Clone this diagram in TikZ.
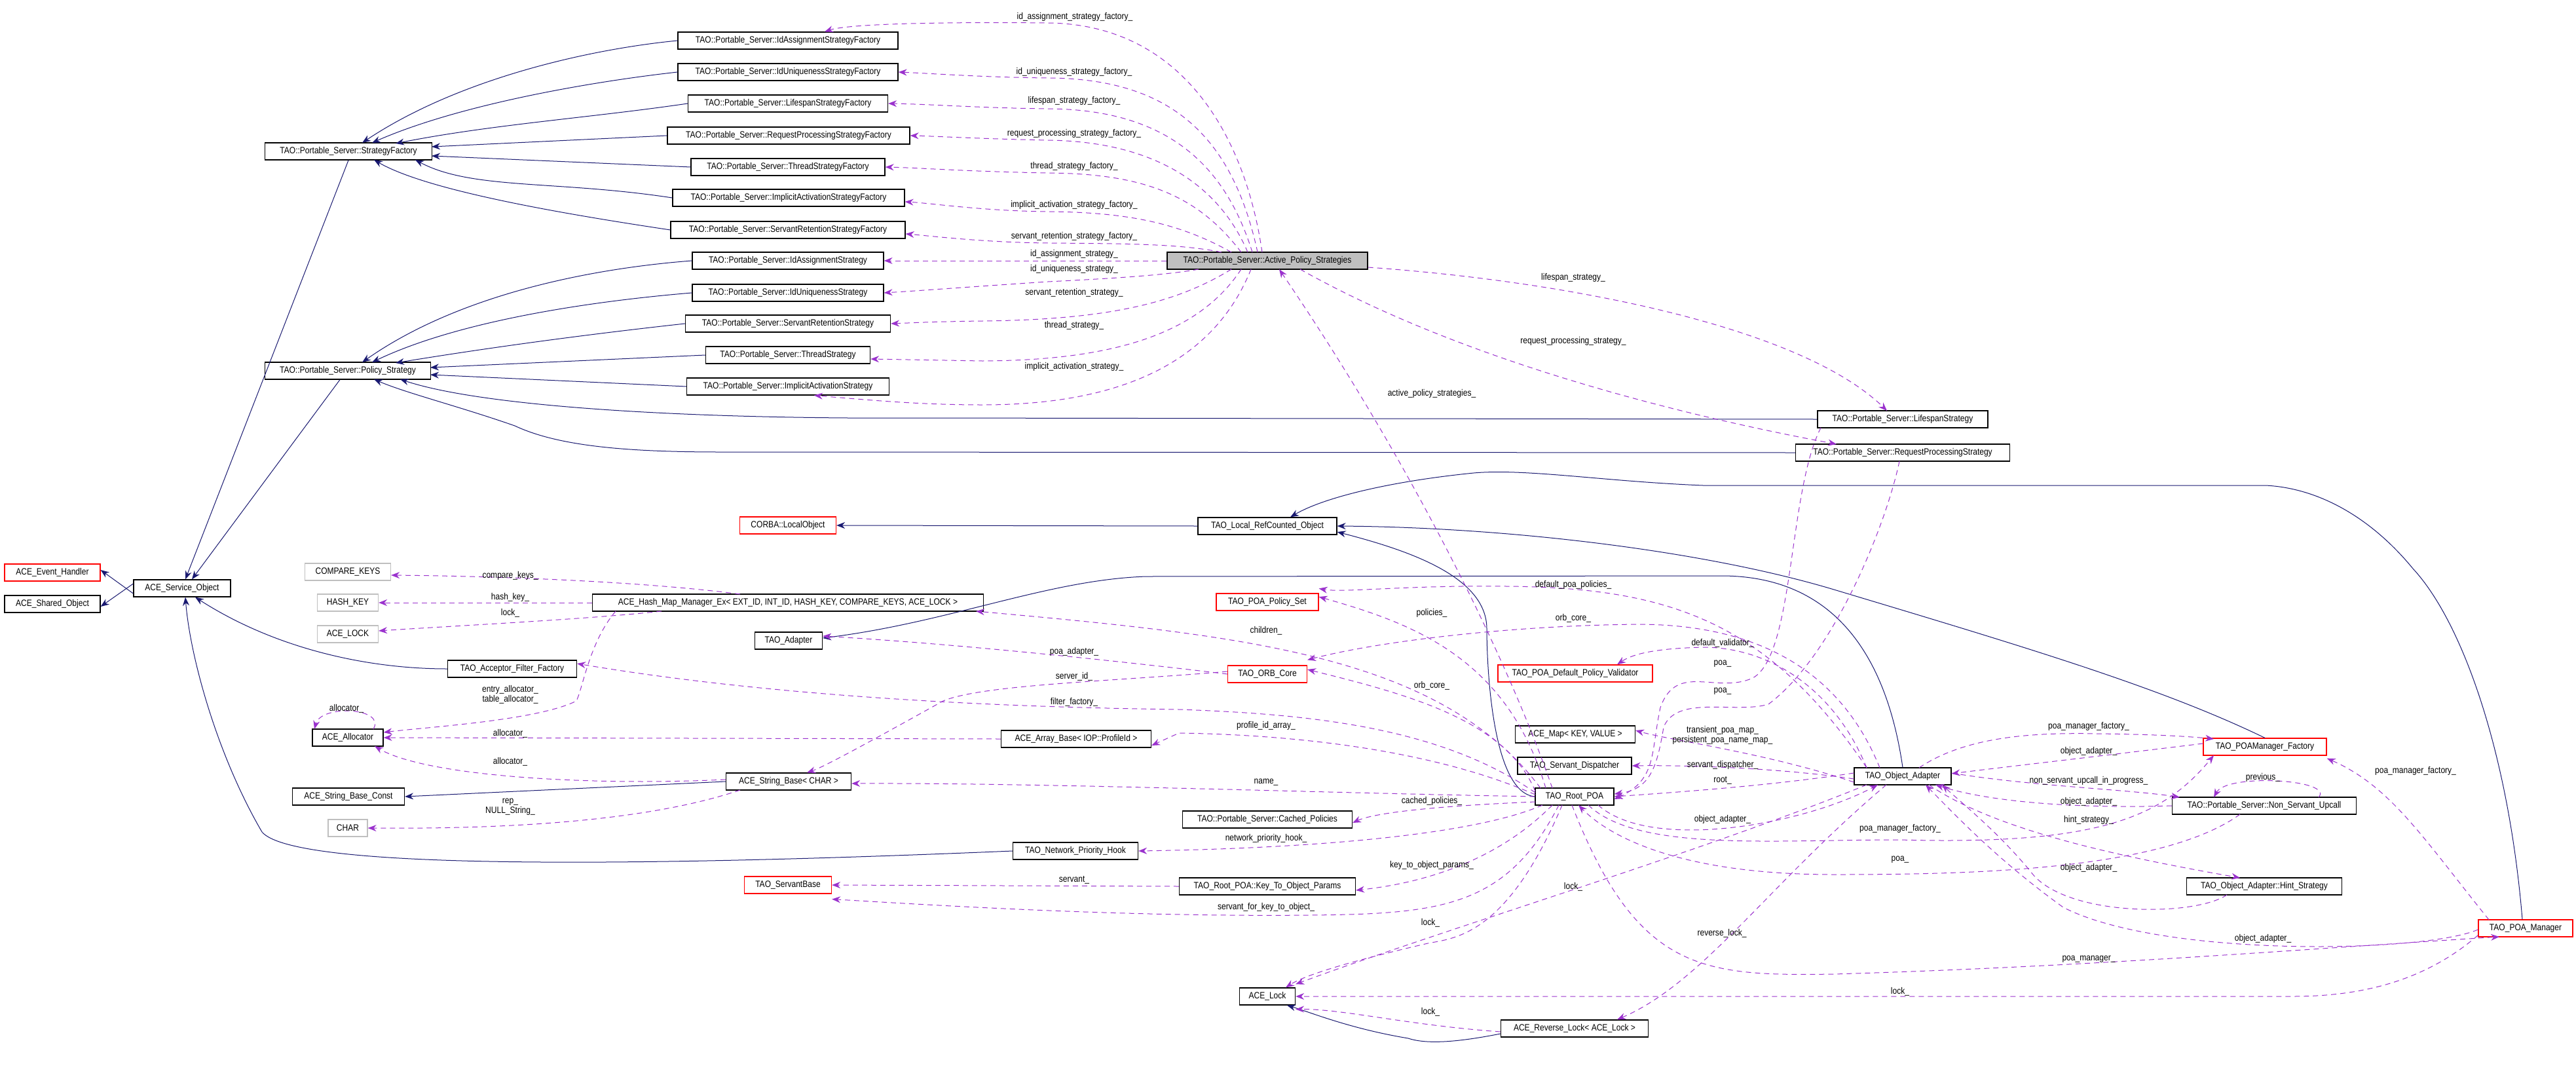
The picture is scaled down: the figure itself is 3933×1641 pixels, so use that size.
\documentclass[tikz,border=0pt]{standalone}
\usepackage{fontspec}
\setmainfont[FakeStretch=0.86]{Liberation Sans}
\usetikzlibrary{arrows.meta}
\definecolor{inhc}{HTML}{191970}
\definecolor{usec}{HTML}{9A32CD}
\definecolor{grayb}{HTML}{BFBFBF}
\tikzset{
 box/.style={draw=black,line width=1.2pt,minimum height=26pt,inner sep=0pt,font=\fontsize{14}{15}\selectfont,fill=white},
 redbox/.style={box,draw=red},
 graybox/.style={box,draw=grayb},
 lbl/.style={inner sep=0pt,font=\fontsize{14}{15}\selectfont},
 inh/.style={draw=inhc,line width=1pt,-{Stealth[length=13pt,width=10pt]}},
 use/.style={draw=usec,line width=1pt,dash pattern=on 8pt off 6pt,-{Stealth[length=13pt,width=10pt]}},
}
\begin{document}
\begin{tikzpicture}[x=1pt,y=-1pt]
\useasboundingbox (0,0) rectangle (3933,1641);
% nodes
\node[box,minimum width=336] (idasf) at (1203,62) {TAO::Portable\_Server::IdAssignmentStrategyFactory};
\node[box,minimum width=336] (iusf) at (1203,110) {TAO::Portable\_Server::IdUniquenessStrategyFactory};
\node[box,minimum width=305] (lsf) at (1203,158) {TAO::Portable\_Server::LifespanStrategyFactory};
\node[box,minimum width=370] (rpsf) at (1204,207) {TAO::Portable\_Server::RequestProcessingStrategyFactory};
\node[box,minimum width=296] (tsf) at (1203,255) {TAO::Portable\_Server::ThreadStrategyFactory};
\node[box,minimum width=354] (iasf) at (1204,302) {TAO::Portable\_Server::ImplicitActivationStrategyFactory};
\node[box,minimum width=358] (srsf) at (1203,351) {TAO::Portable\_Server::ServantRetentionStrategyFactory};
\node[box,minimum width=292] (ias) at (1203,398) {TAO::Portable\_Server::IdAssignmentStrategy};
\node[box,minimum width=292] (ius) at (1203,447) {TAO::Portable\_Server::IdUniquenessStrategy};
\node[box,minimum width=313] (srs) at (1203,494) {TAO::Portable\_Server::ServantRetentionStrategy};
\node[box,minimum width=251] (ts) at (1203,542) {TAO::Portable\_Server::ThreadStrategy};
\node[box,minimum width=309] (iacts) at (1203,590) {TAO::Portable\_Server::ImplicitActivationStrategy};
\node[box,minimum width=255] (sf) at (532,231) {TAO::Portable\_Server::StrategyFactory};
\node[box,minimum width=253] (ps) at (531,566) {TAO::Portable\_Server::Policy\_Strategy};
\node[box,minimum width=306,fill=black!25] (aps) at (1935,398) {TAO::Portable\_Server::Active\_Policy\_Strategies};
\node[box,minimum width=260] (ls) at (2905,640) {TAO::Portable\_Server::LifespanStrategy};
\node[box,minimum width=327] (rps) at (2905,691) {TAO::Portable\_Server::RequestProcessingStrategy};
\node[redbox,minimum width=188] (poamf) at (3458,1140) {TAO\_POAManager\_Factory};
\node[box,minimum width=148] (oa) at (2905,1185) {TAO\_Object\_Adapter};
\node[box,minimum width=281] (nsu) at (3457,1230) {TAO::Portable\_Server::Non\_Servant\_Upcall};
\node[box,minimum width=237] (hint) at (3457,1353) {TAO\_Object\_Adapter::Hint\_Strategy};
\node[redbox,minimum width=144] (poam) at (3856,1417) {TAO\_POA\_Manager};
\node[redbox,minimum width=146] (eh) at (80,874) {ACE\_Event\_Handler};
\node[box,minimum width=146] (so) at (80,922) {ACE\_Shared\_Object};
\node[box,minimum width=148] (svc) at (278,898) {ACE\_Service\_Object};
\node[redbox,minimum width=147] (corba) at (1203,802) {CORBA::LocalObject};
\node[graybox,minimum width=131] (ck) at (531,873) {COMPARE\_KEYS};
\node[graybox,minimum width=93] (hk) at (531,920) {HASH\_KEY};
\node[graybox,minimum width=93] (al) at (531,968) {ACE\_LOCK};
\node[box,minimum width=597] (hm) at (1203,920) {ACE\_Hash\_Map\_Manager\_Ex< EXT\_ID, INT\_ID, HASH\_KEY, COMPARE\_KEYS, ACE\_LOCK >};
\node[box,minimum width=103] (ad) at (1204,978) {TAO\_Adapter};
\node[box,minimum width=197] (aff) at (782,1021) {TAO\_Acceptor\_Filter\_Factory};
\node[box,minimum width=108] (alloc) at (531,1126) {ACE\_Allocator};
\node[box,minimum width=191] (sb) at (1204,1193) {ACE\_String\_Base< CHAR >};
\node[box,minimum width=171] (sbc) at (532,1216) {ACE\_String\_Base\_Const};
\node[graybox,minimum width=60] (char) at (531,1264) {CHAR};
\node[box,minimum width=212] (lrc) at (1935,803) {TAO\_Local\_RefCounted\_Object};
\node[redbox,minimum width=156] (pps) at (1935,919) {TAO\_POA\_Policy\_Set};
\node[redbox,minimum width=121] (orb) at (1935,1029) {TAO\_ORB\_Core};
\node[redbox,minimum width=236] (dpv) at (2405,1028) {TAO\_POA\_Default\_Policy\_Validator};
\node[box,minimum width=229] (arr) at (1643,1128) {ACE\_Array\_Base< IOP::ProfileId >};
\node[box,minimum width=183] (map) at (2405,1121) {ACE\_Map< KEY, VALUE >};
\node[box,minimum width=174] (sd) at (2404,1169) {TAO\_Servant\_Dispatcher};
\node[box,minimum width=120] (root) at (2404,1216) {TAO\_Root\_POA};
\node[box,minimum width=259] (cp) at (1935,1251) {TAO::Portable\_Server::Cached\_Policies};
\node[box,minimum width=191] (nph) at (1642,1299) {TAO\_Network\_Priority\_Hook};
\node[redbox,minimum width=133] (sbase) at (1203,1351) {TAO\_ServantBase};
\node[box,minimum width=269] (kto) at (1935,1353) {TAO\_Root\_POA::Key\_To\_Object\_Params};
\node[box,minimum width=85] (lock) at (1935,1521) {ACE\_Lock};
\node[box,minimum width=225] (rl) at (2404,1570) {ACE\_Reverse\_Lock< ACE\_Lock >};

% inheritance
\draw[inh] ([yshift=-8pt]svc.west) -- ([yshift=4pt]eh.east);
\draw[inh] ([yshift=7pt]svc.west) -- ([yshift=-4pt]so.east);
\draw[inh] (sf.south) -- ([xshift=5pt]svc.north);
\draw[inh] ([xshift=-12pt]ps.south) -- ([xshift=15pt]svc.north);
\draw[inh] (aff.west) .. controls (560,1021) and (420,990) .. ([xshift=20pt]svc.south);
\draw[inh] (nph.west) .. controls (1000,1322) and (450,1330) .. (400,1270) .. controls (330,1150) and (290,1000) .. ([xshift=5pt]svc.south);
\draw[inh] (idasf.west) .. controls (900,75) and (700,120) .. (553,218);
\draw[inh] (iusf.west) .. controls (900,125) and (700,160) .. (568,218);
\draw[inh] (lsf.west) .. controls (900,180) and (750,190) .. (604,219);
\draw[inh] (rpsf.west) -- (659,224);
\draw[inh] (tsf.west) -- (659,238);
\draw[inh] (iasf.west) .. controls (850,275) and (720,290) .. (634,244);
\draw[inh] (srsf.west) .. controls (850,325) and (650,290) .. (571,244);
\draw[inh] (ias.west) .. controls (900,410) and (700,450) .. (553,553);
\draw[inh] (ius.west) .. controls (900,460) and (700,490) .. (568,553);
\draw[inh] (srs.west) .. controls (900,510) and (750,530) .. (604,554);
\draw[inh] (ts.west) -- (657,561);
\draw[inh] (iacts.west) -- (657,572);
\draw[inh] (ls.west) -- (1400,638) .. controls (1100,640) and (750,625) .. (611,579);
\draw[inh] (rps.west) -- (1100,690) .. controls (950,690) and (850,680) .. (786,650) .. controls (700,620) and (620,600) .. (571,579);
\draw[inh] (lrc.west) -- (corba.east);
\draw[inh] (root.west) .. controls (2275,1210) and (2270,1000) .. (2270,960) .. controls (2270,880) and (2150,840) .. ([yshift=-9pt]lrc.east);
\draw[inh] (oa.north) .. controls (2880,1000) and (2800,880) .. (2630,879) -- (1750,880) .. controls (1600,885) and (1450,950) .. ([yshift=4pt]ad.east);
\draw[inh] (poamf.north) .. controls (3300,1050) and (3100,990) .. (2800,900) .. controls (2600,840) and (2300,805) .. (lrc.east);
\draw[inh] ([xshift=-5pt]poam.north) .. controls (3830,1150) and (3760,950) .. (3684,868) .. controls (3620,790) and (3540,745) .. (3459,741) -- (2600,741) .. controls (2450,735) and (2330,715) .. (2250,722) .. controls (2120,735) and (2020,760) .. ([xshift=35pt]lrc.north);
\draw[inh] ([yshift=-8pt]rl.west) .. controls (2230,1590) and (2180,1595) .. (2150,1585) .. controls (2060,1570) and (2000,1545) .. ([xshift=30pt]lock.south);
\draw[inh] (sb.west) -- (sbc.east);

% usage edges: active policy strategies
\draw[use] (1927,385) .. controls (1900,200) and (1800,37) .. (1600,35) .. controls (1400,33) and (1290,38) .. ([xshift=56pt]idasf.north);
\draw[use] (1920,385) .. controls (1880,200) and (1780,120) .. (1600,119) .. controls (1500,118) and (1420,112) .. (iusf.east);
\draw[use] (1912,385) .. controls (1870,250) and (1780,167) .. (1600,166) .. controls (1500,165) and (1420,159) .. (lsf.east);
\draw[use] (1905,385) .. controls (1860,280) and (1760,216) .. (1600,214) .. controls (1500,212) and (1430,208) .. (rpsf.east);
\draw[use] (1895,385) .. controls (1830,300) and (1750,265) .. (1600,264) .. controls (1480,262) and (1400,256) .. (tsf.east);
\draw[use] (1880,385) .. controls (1800,340) and (1720,324) .. (1600,323) .. controls (1500,322) and (1420,310) .. ([yshift=-6pt]iasf.east);
\draw[use] (1865,385) .. controls (1800,372) and (1720,372) .. (1600,371) .. controls (1500,370) and (1420,360) .. ([yshift=-6pt]srsf.east);
\draw[use] (aps.west) -- (ias.east);
\draw[use] (1830,411) .. controls (1780,420) and (1700,425) .. (1600,430) .. controls (1450,440) and (1400,444) .. (ius.east);
\draw[use] (1880,411) .. controls (1800,460) and (1700,488) .. (1500,490) .. controls (1420,491) and (1390,493) .. (srs.east);
\draw[use] (1895,411) .. controls (1830,510) and (1700,550) .. (1500,551) -- ([yshift=-6pt]ts.east);
\draw[use] (1910,411) .. controls (1850,560) and (1700,618) .. (1500,618) .. controls (1400,618) and (1320,610) .. ([xshift=40pt]iacts.south);
\draw[use] ([yshift=-10pt]aps.east) .. controls (2400,430) and (2750,500) .. (2881,627);
\draw[use] (1985,411) .. controls (2250,560) and (2600,640) .. (2804,678);
\draw[use] (2370,1203) .. controls (2300,1000) and (2150,700) .. (1953,411);

% hash map etc.
\draw[use] (1130,907) .. controls (1000,890) and (800,880) .. ([yshift=-5pt]ck.east);
\draw[use] (hm.west) -- (hk.east);
\draw[use] (1010,933) .. controls (900,945) and (700,955) .. ([yshift=5pt]al.east);
\draw[use] (940,933) .. controls (900,980) and (890,1050) .. (880,1070) .. controls (820,1100) and (650,1110) .. ([yshift=8pt]alloc.east);
\draw[use] (570,1113) .. controls (590,1080) and (490,1075) .. (480,1113);
\draw[use] (arr.west) -- (alloc.east);
\draw[use] ([yshift=3pt]sb.west) .. controls (900,1200) and (650,1185) .. (572,1139);
\draw[use] (1130,1206) .. controls (1000,1250) and (800,1266) .. (char.east);

% root / object adapter
\draw[use] (2352,1203) .. controls (2200,1000) and (1900,970) .. (1490,933);
\draw[use] (2850,1172) .. controls (2700,950) and (2550,897) .. (2300,895) .. controls (2150,893) and (2050,905) .. ([yshift=7pt]pps.north east);
\draw[use] (2360,1203) .. controls (2300,1000) and (2150,950) .. ([yshift=8pt]pps.east);
\draw[use] (2870,1172) .. controls (2800,1000) and (2650,953) .. (2500,953) .. controls (2300,955) and (2100,980) .. ([yshift=8pt]orb.north east);
\draw[use] (2344,1208) .. controls (2300,1100) and (2150,1060) .. ([yshift=7pt]orb.east);
\draw[use] (orb.west) .. controls (1800,1020) and (1500,985) .. ([yshift=7pt]ad.east);
\draw[use] ([yshift=4pt]orb.west) .. controls (1700,1040) and (1500,1045) .. (1440,1070) .. controls (1350,1120) and (1260,1170) .. ([xshift=28pt]sb.north);
\draw[use] (2344,1210) .. controls (2200,1110) and (2000,1090) .. (1800,1083) .. controls (1400,1078) and (1100,1050) .. ([yshift=8pt]aff.east);
\draw[use] (2344,1213) .. controls (2200,1150) and (2000,1122) .. (1800,1119) -- ([yshift=-10pt]arr.east);
\draw[use] (root.west) .. controls (2000,1210) and (1600,1195) .. ([yshift=-3pt]sb.east);
\draw[use] (2344,1224) .. controls (2200,1230) and (2100,1240) .. ([yshift=-5pt]cp.east);
\draw[use] (2355,1229) .. controls (2250,1275) and (2000,1295) .. (nph.east);
\draw[use] (2370,1229) .. controls (2300,1300) and (2200,1345) .. ([yshift=-6pt]kto.east);
\draw[use] (kto.west) -- (sbase.east);
\draw[use] (2380,1229) .. controls (2300,1385) and (2200,1395) .. (2000,1397) .. controls (1700,1400) and (1400,1380) .. ([yshift=-8pt]sbase.south east);
\draw[use] (2385,1229) .. controls (2300,1430) and (2220,1432) .. (2180,1440) .. controls (2050,1470) and (1990,1490) .. ([xshift=28pt]lock.north);
\draw[use] (2850,1198) .. controls (2600,1300) and (2200,1420) .. ([yshift=5pt]lock.north east);
\draw[use] (2880,1198) .. controls (2700,1350) and (2600,1500) .. ([xshift=65pt]rl.north);
\draw[use] ([yshift=-5pt]rl.west) .. controls (2150,1565) and (2050,1540) .. ([yshift=-6pt]lock.south east);
\draw[use] ([yshift=3pt]poam.south west) .. controls (3700,1500) and (3600,1521) .. (3500,1521) -- (lock.east);
\draw[use] (2850,1172) .. controls (2800,1050) and (2700,988) .. (2600,988) .. controls (2520,990) and (2490,1000) .. ([xshift=64pt]dpv.north);
\draw[use] (2780,653) .. controls (2730,750) and (2740,1000) .. (2676,1035) .. controls (2620,1060) and (2560,1010) .. (2535,1080) .. controls (2520,1150) and (2530,1190) .. ([yshift=-4pt]root.east);
\draw[use] (2900,704) .. controls (2880,800) and (2800,1000) .. (2700,1075) .. controls (2650,1090) and (2560,1060) .. (2540,1110) .. controls (2530,1170) and (2520,1205) .. ([yshift=4pt]root.east);
\draw[use] ([yshift=-9pt]oa.west) .. controls (2700,1150) and (2550,1130) .. ([yshift=6pt]map.east);
\draw[use] ([yshift=-4pt]oa.west) .. controls (2700,1170) and (2550,1168) .. (sd.east);
\draw[use] ([yshift=5pt]oa.west) .. controls (2700,1200) and (2550,1210) .. (root.east);
\draw[use] (2440,1229) .. controls (2520,1300) and (2750,1260) .. (2867,1198);
\draw[use] (2425,1229) .. controls (2500,1300) and (2700,1282) .. (2900,1282) .. controls (3200,1290) and (3300,1250) .. (3380,1153);
\draw[use] (3420,1243) .. controls (3300,1330) and (3000,1335) .. (2800,1335) .. controls (2550,1335) and (2450,1270) .. (2410,1229);
\draw[use] (2930,1172) .. controls (3000,1125) and (3100,1118) .. (3200,1120) .. controls (3300,1121) and (3350,1125) .. (3380,1128);
\draw[use] ([yshift=5pt]poamf.west) .. controls (3200,1155) and (3050,1172) .. ([yshift=4pt]oa.east);
\draw[use] ([yshift=5pt]oa.east) .. controls (3100,1200) and (3250,1205) .. (3328,1217);
\draw[use] (nsu.west) .. controls (3200,1234) and (3050,1228) .. (2955,1198);
\draw[use] (3540,1217) .. controls (3565,1190) and (3400,1180) .. (3380,1217);
\draw[use] (2945,1198) .. controls (3050,1270) and (3250,1310) .. (3420,1340);
\draw[use] (3400,1366) .. controls (3350,1400) and (3150,1400) .. (3100,1330) .. controls (3050,1270) and (3000,1230) .. (2965,1198);
\draw[use] ([yshift=-2pt]poam.west) .. controls (3700,1455) and (3300,1462) .. (3150,1385) .. controls (3060,1320) and (3000,1260) .. (2940,1198);
\draw[use] (2400,1229) .. controls (2500,1485) and (2600,1490) .. (2800,1487) .. controls (3200,1475) and (3500,1450) .. (3816,1430);
\draw[use] (3800,1404) .. controls (3700,1280) and (3650,1200) .. ([yshift=-4pt]poamf.south east);

% labels
\node[lbl] (l1) at (1641,26) {id\_assignment\_strategy\_factory\_};
\node[lbl] (l2) at (1640,110) {id\_uniqueness\_strategy\_factory\_};
\node[lbl] (l3) at (1640,154) {lifespan\_strategy\_factory\_};
\node[lbl] (l4) at (1640,204) {request\_processing\_strategy\_factory\_};
\node[lbl] (l5) at (1640,254) {thread\_strategy\_factory\_};
\node[lbl] (l6) at (1640,313) {implicit\_activation\_strategy\_factory\_};
\node[lbl] (l7) at (1640,361) {servant\_retention\_strategy\_factory\_};
\node[lbl] (l8) at (1640,388) {id\_assignment\_strategy\_};
\node[lbl] (l9) at (1640,411) {id\_uniqueness\_strategy\_};
\node[lbl] (l10) at (1640,447) {servant\_retention\_strategy\_};
\node[lbl] (l11) at (1640,497) {thread\_strategy\_};
\node[lbl] (l12) at (1640,560) {implicit\_activation\_strategy\_};
\node[lbl] (l13) at (2402,424) {lifespan\_strategy\_};
\node[lbl] (l14) at (2402,521) {request\_processing\_strategy\_};
\node[lbl] (l15) at (2186,601) {active\_policy\_strategies\_};
\node[lbl] (l16) at (779,879) {compare\_keys\_};
\node[lbl] (l17) at (779,912) {hash\_key\_};
\node[lbl] (l18) at (779,936) {lock\_};
\node[lbl,align=center] (l19) at (779,1060) {entry\_allocator\_\\table\_allocator\_};
\node[lbl] (l20) at (529,1082) {allocator\_};
\node[lbl] (l21) at (779,1120) {allocator\_};
\node[lbl] (l22) at (779,1163) {allocator\_};
\node[lbl,align=center] (l23) at (779,1232) {rep\_\\NULL\_String\_};
\node[lbl] (l24) at (2402,893) {default\_poa\_policies\_};
\node[lbl] (l25) at (2186,936) {policies\_};
\node[lbl] (l26) at (2402,944) {orb\_core\_};
\node[lbl] (l27) at (1933,963) {children\_};
\node[lbl] (l28) at (2630,982) {default\_validator\_};
\node[lbl] (l29) at (1640,995) {poa\_adapter\_};
\node[lbl] (l30) at (2630,1013) {poa\_};
\node[lbl] (l31) at (1640,1033) {server\_id\_};
\node[lbl] (l32) at (2186,1047) {orb\_core\_};
\node[lbl] (l33) at (2630,1055) {poa\_};
\node[lbl] (l34) at (1640,1072) {filter\_factory\_};
\node[lbl] (l35) at (1933,1108) {profile\_id\_array\_};
\node[lbl,align=center] (l36) at (2630,1122) {transient\_poa\_map\_\\persistent\_poa\_name\_map\_};
\node[lbl] (l37) at (2630,1168) {servant\_dispatcher\_};
\node[lbl] (l38) at (2630,1191) {root\_};
\node[lbl] (l39) at (1933,1194) {name\_};
\node[lbl] (l40) at (2186,1223) {cached\_policies\_};
\node[lbl] (l41) at (2630,1251) {object\_adapter\_};
\node[lbl] (l42) at (1933,1280) {network\_priority\_hook\_};
\node[lbl] (l43) at (2186,1321) {key\_to\_object\_params\_};
\node[lbl] (l44) at (1640,1343) {servant\_};
\node[lbl] (l45) at (1933,1385) {servant\_for\_key\_to\_object\_};
\node[lbl] (l46) at (2402,1354) {lock\_};
\node[lbl] (l47) at (2184,1409) {lock\_};
\node[lbl] (l48) at (2629,1425) {reverse\_lock\_};
\node[lbl] (l49) at (2184,1545) {lock\_};
\node[lbl] (l50) at (2901,1514) {lock\_};
\node[lbl] (l51) at (2901,1265) {poa\_manager\_factory\_};
\node[lbl] (l52) at (2901,1312) {poa\_};
\node[lbl] (l53) at (3189,1109) {poa\_manager\_factory\_};
\node[lbl] (l54) at (3189,1147) {object\_adapter\_};
\node[lbl] (l55) at (3189,1192) {non\_servant\_upcall\_in\_progress\_};
\node[lbl] (l56) at (3455,1187) {previous\_};
\node[lbl] (l57) at (3189,1224) {object\_adapter\_};
\node[lbl] (l58) at (3189,1252) {hint\_strategy\_};
\node[lbl] (l59) at (3189,1325) {object\_adapter\_};
\node[lbl] (l60) at (3455,1433) {object\_adapter\_};
\node[lbl] (l61) at (3189,1464) {poa\_manager\_};
\node[lbl] (l62) at (3688,1177) {poa\_manager\_factory\_};
\end{tikzpicture}
\end{document}
